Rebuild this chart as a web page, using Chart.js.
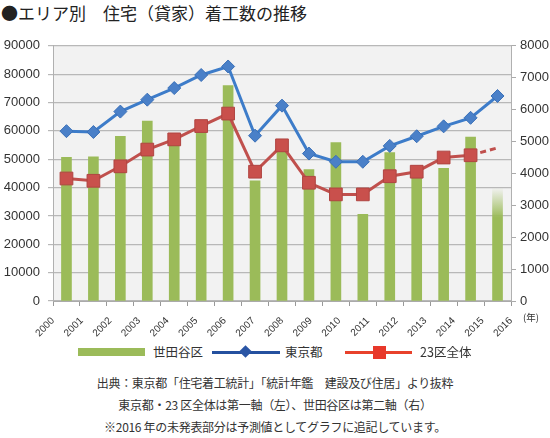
<!DOCTYPE html>
<html lang="ja">
<head>
<meta charset="utf-8">
<script src="https://cdn.jsdelivr.net/npm/chart.js@4"></script>
<style>
  body {
    margin: 0;
    width: 550px;
    height: 438px;
    background: #fff;
    font-family: "Noto Sans CJK JP", sans-serif;
    color: #333;
    position: relative;
    overflow: hidden;
  }
  #title {
    position: absolute;
    left: 1px;
    top: 0;
    font-size: 17px;
    line-height: 26px;
    color: #222;
    white-space: nowrap;
  }
  #wrap { position: absolute; left: 0; top: 30px; width: 550px; height: 312px; }
  .abs { position: absolute; white-space: nowrap; }
  .lgtext { font-size: 12.5px; line-height: 16px; top: 344px; color: #333; }
  #unit { left: 523px; top: 310px; font-size: 9.5px; color: #333; }
  .note {
    position: absolute;
    left: 0;
    width: 550px;
    text-align: center;
    font-size: 12px;
    letter-spacing: -0.3px;
    line-height: 16px;
    color: #333;
    white-space: nowrap;
  }
</style>
</head>
<body>
<div id="title">●エリア別　住宅（貸家）着工数の推移</div>
<div id="wrap"><canvas id="chart"></canvas></div>
<span id="unit" class="abs">(年)</span>

<!-- legend -->
<div class="abs" style="left:78px;top:348px;width:67px;height:8px;background:#9bbb59"></div>
<span class="abs lgtext" style="left:153px">世田谷区</span>
<div class="abs" style="left:212px;top:351px;width:68px;height:2.5px;background:#24509f"></div>
<div class="abs" style="left:241px;top:347px;width:9px;height:9px;background:#2a55a5;transform:rotate(45deg)"></div>
<span class="abs lgtext" style="left:285px">東京都</span>
<div class="abs" style="left:345px;top:351px;width:67px;height:2.5px;background:#e8412b"></div>
<div class="abs" style="left:373px;top:346px;width:13px;height:13px;background:#e8382a"></div>
<span class="abs lgtext" style="left:420px">23区全体</span>

<div class="note" style="top:375px">出典：東京都「住宅着工統計」「統計年鑑　建設及び住居」より抜粋</div>
<div class="note" style="top:397px">東京都・23 区全体は第一軸（左）、世田谷区は第二軸（右）</div>
<div class="note" style="top:419px">※2016 年の未発表部分は予測値としてグラフに追記しています。</div>

<script>
const yearLabels = ["2000", "2001", "2002", "2003", "2004", "2005", "2006", "2007", "2008",
  "2009", "2010", "2011", "2012", "2013", "2014", "2015", "2016"];
// 世田谷区 (right axis)
const setagaya = [4500, 4520, 5160, 5640, 5000, 5450, 6750, 3770, 4750,
  4120, 4970, 2720, 4650, 4000, 4160, 5140, 3550];
// 東京都 (left axis)
const tokyo = [59900, 59600, 66800, 71000, 75100, 79700, 82700, 58300, 68900,
  52000, 49100, 49100, 54700, 58100, 61600, 64600, 72300];
// 23区全体 (left axis), last value is the estimate
const ku23 = [43200, 42400, 47500, 53400, 57000, 61700, 66100, 45600, 54900,
  41700, 37600, 37600, 44000, 45600, 50600, 51400, 54000];

const leftMax = 90000;
const rightMax = 8000;
const lastIdx = yearLabels.length - 1;
const tickFont = { family: "'Liberation Sans', sans-serif", size: 13 };

function barColor(ctx) {
  const green = "#9bbb59";
  if (ctx.dataIndex !== lastIdx) return green;
  const chart = ctx.chart;
  if (!chart.chartArea) return green;
  const top = chart.scales.y1.getPixelForValue(setagaya[lastIdx]);
  const g = chart.ctx.createLinearGradient(0, top, 0, top + 30);
  g.addColorStop(0, "rgba(155,187,89,0)");
  g.addColorStop(1, "rgba(155,187,89,1)");
  return g;
}

const plotBg = {
  id: "plotBg",
  beforeDraw(chart) {
    const { ctx, chartArea: a } = chart;
    ctx.save();
    ctx.fillStyle = "#f2f2f2";
    ctx.fillRect(a.left, a.top, a.width, a.height);
    ctx.restore();
  },
};

new Chart(document.getElementById("chart"), {
  data: {
    labels: yearLabels,
    datasets: [
      {
        type: "bar",
        label: "世田谷区",
        data: setagaya,
        xAxisID: "x",
        yAxisID: "y1",
        backgroundColor: barColor,
        barThickness: 10,
        order: 3,
      },
      {
        type: "line",
        label: "東京都",
        data: tokyo,
        xAxisID: "x",
        yAxisID: "y",
        borderColor: "#3d7cc9",
        borderWidth: 3,
        pointStyle: "rectRot",
        pointRadius: 6.5,
        pointBackgroundColor: "#4a80c8",
        pointBorderColor: "#3a70b8",
        pointBorderWidth: 1,
        tension: 0,
        order: 1,
      },
      {
        type: "line",
        label: "23区全体",
        data: ku23,
        xAxisID: "x",
        yAxisID: "y",
        borderColor: "#c0504d",
        borderWidth: 3,
        pointStyle: "rect",
        pointRadius: ku23.map((v, i) => (i === lastIdx ? 0 : 9)),
        pointBackgroundColor: "#c9504c",
        pointBorderColor: "#b04441",
        pointBorderWidth: 1,
        segment: {
          borderDash: (c) => (c.p1DataIndex === lastIdx ? [6, 4] : undefined),
        },
        tension: 0,
        order: 2,
      },
    ],
  },
  options: {
    responsive: true,
    maintainAspectRatio: false,
    animation: false,
    layout: { padding: { top: 15, left: 0, right: 0, bottom: 0 } },
    plugins: { legend: { display: false }, tooltip: { enabled: false } },
    scales: {
      x: {
        type: "category",
        position: "bottom",
        weight: 0,
        offset: true,
        grid: { offset: true, drawOnChartArea: false, tickLength: 5, color: "#999" },
        border: { color: "#aaa" },
        ticks: { display: false },
        afterFit: (s) => { s.height = 6; },
      },
      x2: {
        type: "linear",
        position: "bottom",
        weight: 1,
        min: 0,
        max: lastIdx,
        grid: { display: false },
        border: { display: false },
        ticks: {
          stepSize: 1,
          autoSkip: false,
          minRotation: 45,
          maxRotation: 45,
          padding: 0,
          color: "#333",
          font: { family: "'Liberation Sans', sans-serif", size: 10 },
          callback: (v) => yearLabels[v],
        },
        afterFit: (s) => { s.height = 35; },
      },
      y: {
        position: "left",
        min: 0,
        max: leftMax,
        ticks: { stepSize: 10000, padding: 8, color: "#333", font: tickFont, callback: (v) => String(v) },
        grid: { color: "#b8b8b8", lineWidth: 1.2, tickLength: 5 },
        border: { color: "#b0b0b0" },
        afterFit: (s) => { s.width = 53; },
      },
      y1: {
        position: "right",
        min: 0,
        max: rightMax,
        ticks: { stepSize: 1000, padding: 4, color: "#333", font: tickFont, callback: (v) => String(v) },
        grid: { drawOnChartArea: false, color: "#aaa", tickLength: 5 },
        border: { color: "#b0b0b0" },
        afterFit: (s) => { s.width = 39; },
      },
    },
  },
  plugins: [plotBg],
});
</script>
</body>
</html>
